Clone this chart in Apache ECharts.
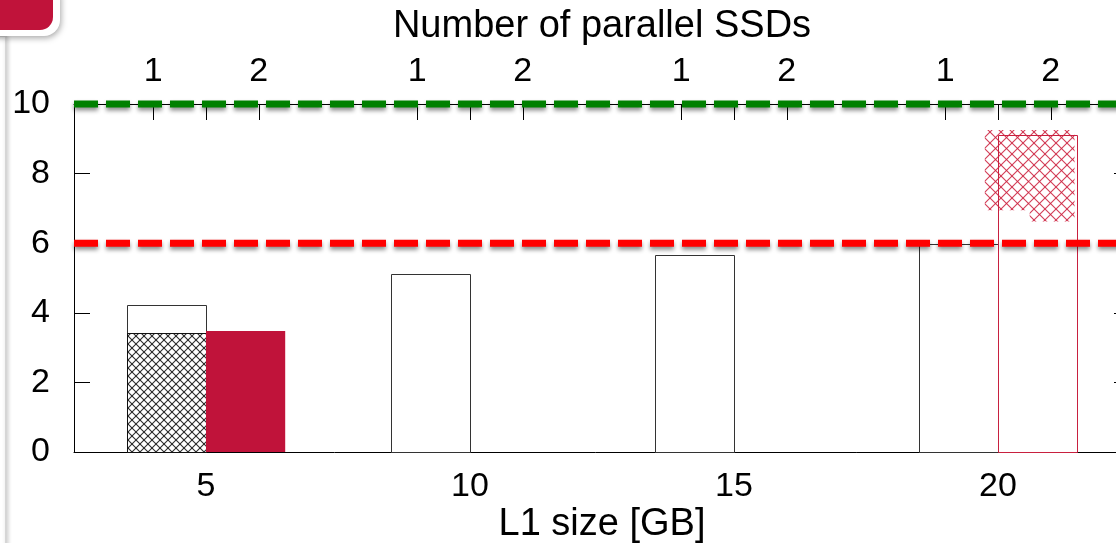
<!DOCTYPE html>
<html><head><meta charset="utf-8">
<script src="https://cdn.jsdelivr.net/npm/echarts@6/dist/echarts.min.js"></script>
<style>html,body{margin:0;padding:0;background:#fff}#c{width:1116px;height:543px}</style>
</head><body><div id="c"></div>
<script>
// ---- data ----
const l1Sizes = [5, 10, 15, 20];
const oneSsdTotal = [4.22, 5.11, 5.67, 5.98];     // outlined bars, 1 SSD
const oneSsdHatched = [3.41, null, null, null];   // black cross-hatched, 1 SSD
const twoSsdFilled = [3.48, null, null, null];    // solid crimson, 2 SSDs
const twoSsdOutline = [null, null, null, 9.11];   // crimson outline, 2 SSDs
const hatchFrom = [19.75, 20.6];                  // crimson hatched area
const hatchTo = [20.6, 21.45];
const hatchLow = [6.95, 6.62];
const hatchHigh = [9.25, 9.25];
const greenLevel = [10];
const redLevel = [6];
const xTickValues = [5, 10, 15, 20];
const topTickValues = [4, 5, 6, 9, 10, 11, 14, 15, 16, 19, 20, 21];
const topTickLabels = ['1', '', '2', '1', '', '2', '1', '', '2', '1', '', '2'];
const xMin = 2.5, xMax = 22.5;

const BW = 1.5;
const FONT = "'Liberation Sans', Arial, Helvetica, sans-serif";

function makeHatch(period, color, lw) {
  const c = document.createElement('canvas');
  c.width = period; c.height = period;
  const g = c.getContext('2d');
  g.strokeStyle = color; g.lineWidth = lw;
  for (const o of [-period, 0, period]) {
    g.beginPath(); g.moveTo(o, 0); g.lineTo(o + period, period); g.stroke();
    g.beginPath(); g.moveTo(o + period, 0); g.lineTo(o, period); g.stroke();
  }
  return c;
}
const blackHatch = { image: makeHatch(8, 'rgba(20,20,20,0.9)', 1.1), repeat: 'repeat' };
const redHatch = { image: makeHatch(11, 'rgba(205,35,65,0.9)', 1.1), repeat: 'repeat' };

function boxes(vals, side) {
  const out = [];
  l1Sizes.forEach((s, i) => {
    if (vals[i] == null) return;
    const x0 = side === 1 ? s - BW : s;
    out.push([x0, x0 + BW, 0, vals[i]]);
  });
  return out;
}
function rectRenderer(style, crisp) {
  return function (params, api) {
    const a = api.coord([api.value(0), api.value(3)]);
    const b = api.coord([api.value(1), api.value(2)]);
    let x0 = a[0], y0 = a[1], x1 = b[0], y1 = b[1];
    if (crisp) { x0 = Math.round(x0) + 0.5; x1 = Math.round(x1) + 0.5; y0 = Math.round(y0) + 0.5; y1 = Math.round(y1) + 0.5; }
    return { type: 'rect', shape: { x: x0, y: y0, width: x1 - x0, height: y1 - y0 }, style: style };
  };
}
function customSeries(name, data, style, z, crisp) {
  return {
    name, type: 'custom', data, z, clip: false,
    encode: { x: [0, 1], y: [2, 3] },
    renderItem: rectRenderer(style, crisp), silent: true
  };
}
const hatchData = hatchFrom.map((f, i) => [f, hatchTo[i], hatchLow[i], hatchHigh[i]]);

function levelLine(name, level, color) {
  return {
    name, type: 'line', symbol: 'none', clip: false, z: 10, silent: true,
    data: [[xMin, level[0]], [xMax, level[0]]],
    lineStyle: { color, width: 7, type: [24, 8], cap: 'butt',
      shadowColor: 'rgba(0,0,0,0.45)', shadowBlur: 4, shadowOffsetY: 3 }
  };
}

const axisLineStyle = { show: true, onZero: false, lineStyle: { color: '#000', width: 1 } };
const option = {
  animation: false,
  backgroundColor: '#fff',
  textStyle: { fontFamily: FONT },
  grid: { left: 74, top: 104, width: 1056, height: 348, outerBoundsMode: 'none', containLabel: false },
  xAxis: [
    { type: 'value', position: 'bottom', min: xMin, max: xMax,
      axisLine: axisLineStyle, splitLine: { show: false },
      axisTick: { show: true, inside: true, length: 15, customValues: xTickValues, lineStyle: { color: '#000' } },
      axisLabel: { customValues: xTickValues, fontSize: 34, color: '#000', margin: 18, fontFamily: FONT },
      name: 'L1 size [GB]', nameLocation: 'middle', nameGap: 54, nameMoveOverlap: false,
      nameTextStyle: { fontSize: 38, color: '#000', fontFamily: FONT } },
    { type: 'value', position: 'top', min: xMin, max: xMax,
      axisLine: axisLineStyle, splitLine: { show: false },
      axisTick: { show: true, inside: true, length: 16, customValues: topTickValues, lineStyle: { color: '#000' } },
      axisLabel: { customValues: topTickValues.filter((v, i) => topTickLabels[i] !== ''),
        formatter: v => topTickLabels[topTickValues.indexOf(v)],
        fontSize: 34, color: '#000', margin: 15, fontFamily: FONT },
      name: 'Number of parallel SSDs', nameLocation: 'middle', nameGap: 58, nameMoveOverlap: false,
      nameTextStyle: { fontSize: 38, color: '#000', fontFamily: FONT } }
  ],
  yAxis: [
    { type: 'value', position: 'left', min: 0, max: 10, interval: 2,
      axisLine: axisLineStyle, splitLine: { show: false },
      axisTick: { show: true, inside: true, length: 16, lineStyle: { color: '#000' } },
      axisLabel: { fontSize: 34, color: '#000', margin: 24, fontFamily: FONT } },
    { type: 'value', position: 'right', min: 0, max: 10, interval: 2,
      axisLine: axisLineStyle, splitLine: { show: false },
      axisTick: { show: true, inside: true, length: 16, lineStyle: { color: '#000' } },
      axisLabel: { show: false } }
  ],
  series: [
    customSeries('1 SSD', boxes(oneSsdTotal, 1), { fill: '#fff', stroke: '#333', lineWidth: 1 }, 2, true),
    customSeries('1 SSD hatched', boxes(oneSsdHatched, 1), { fill: blackHatch, stroke: '#111', lineWidth: 1 }, 3, true),
    customSeries('2 SSDs', boxes(twoSsdFilled, 2), { fill: '#c0133a', stroke: null }, 3, false),
    customSeries('2 SSDs outline', boxes(twoSsdOutline, 2), { fill: 'rgba(0,0,0,0)', stroke: '#c8203f', lineWidth: 1 }, 4, true),
    customSeries('2 SSDs hatched', hatchData, { fill: redHatch, stroke: null }, 5, false),
    levelLine('upper', greenLevel, '#008000'),
    levelLine('lower', redLevel, '#ff0000')
  ],
  graphic: [
    { type: 'rect', z: 100, shape: { x: -20, y: 36, width: 26, height: 600 },
      style: { fill: '#fff', stroke: '#d6d6d6', lineWidth: 2, shadowColor: 'rgba(0,0,0,0.18)', shadowBlur: 4, shadowOffsetX: 1 } },
    { type: 'rect', z: 101, shape: { x: -20, y: -20, width: 80, height: 56, r: 16 },
      style: { fill: '#fff', shadowColor: 'rgba(0,0,0,0.35)', shadowBlur: 6, shadowOffsetX: 1, shadowOffsetY: 2 } },
    { type: 'rect', z: 102, shape: { x: -20, y: -20, width: 73, height: 50, r: 13 },
      style: { fill: '#c0133a' } }
  ]
};
const chart = echarts.init(document.getElementById('c'), null, { renderer: 'canvas' });
chart.setOption(option);
</script>
</body></html>
